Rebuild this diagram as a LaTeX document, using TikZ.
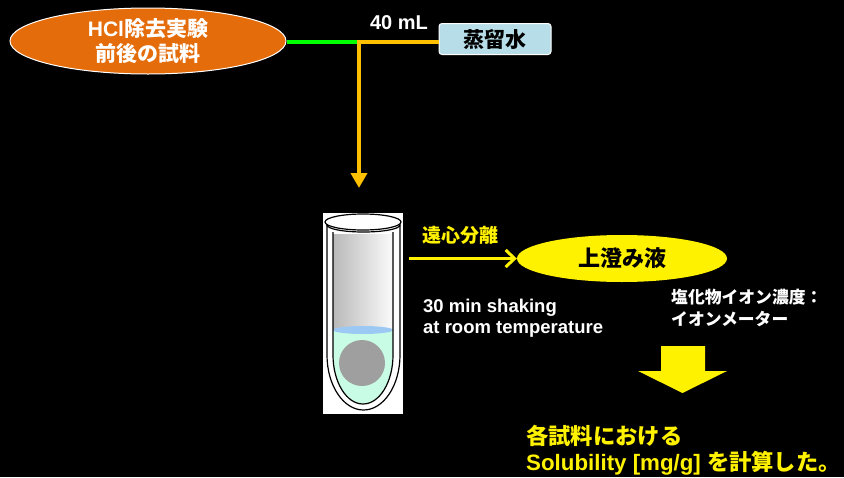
\documentclass[tikz,border=0pt]{standalone}
\usepackage{fontspec}
\setmainfont{Liberation Sans}
\newfontfamily\jp{Noto Sans CJK JP}
\usepackage{tikz}
\usetikzlibrary{arrows.meta}
\usetikzlibrary{shapes.geometric}

\definecolor{sampleorange}{HTML}{E46C0A}
\definecolor{feedamber}{HTML}{FFC000}
\definecolor{waterblue}{HTML}{B7DEE8}
\definecolor{liquidmint}{HTML}{C8FCE4}
\definecolor{surfaceblue}{HTML}{9CC8F4}

\begin{document}
\begin{tikzpicture}[x=1pt,y=1pt,>/.tip={Triangle[width=16pt,length=15pt]},
	samplebox/.style={ellipse,draw=white,line width=1pt,fill=sampleorange,minimum width=276,minimum height=66,inner sep=0pt,text=white,align=center,font=\bfseries\fontsize{21}{25}\selectfont},
	waterbox/.style={rectangle,rounded corners=3pt,draw=white,line width=1pt,fill=waterblue,minimum width=112,minimum height=31,font=\bfseries\fontsize{21}{22}\selectfont},
	superbox/.style={ellipse,fill=yellow,minimum width=210,minimum height=47,inner sep=0pt,font=\bfseries\fontsize{22}{24}\selectfont},
	note/.style={text=white,align=left,inner sep=0pt,font=\bfseries\fontsize{18.5}{21}\selectfont},
	glass/.style={line width=1.2pt}]
	\fill[black] (0,0) rectangle (844,-477);
	\useasboundingbox (0,0) rectangle (844,-477);

	\node (sample) [samplebox] at (148,-41) {HCl{\jp 除去実験}\\{\jp 前後の試料}};
	\node (water) [waterbox] at (495,-39) {\jp 蒸留水};
	\coordinate (split) at (359,-42);
	\node [note,anchor=south,font=\bfseries\fontsize{20}{22}\selectfont] at (399,-30) {40 mL};

	\draw[line width=4.5pt,color=green] (sample.east |- split) -- (split);
	\draw[line width=4.5pt,color=feedamber] (water.west |- split) -- (split.center) -- ++(0,-2);
	\draw[line width=4.5pt,color=feedamber,->] (split) -- (359,-188);

	% centrifuge tube
	\node (tube) [fill=white,minimum width=80,minimum height=201,inner sep=0pt] at (363,-313.5) {};
	\shade[left color=gray!55,right color=gray!3] (333,-234) rectangle (393,-330);
	\fill[liquidmint] (333,-330) -- (333,-355) arc[start angle=180,end angle=360,x radius=30,y radius=49] -- (393,-330) -- cycle;
	\fill[surfaceblue] (363,-330) ellipse [x radius=30,y radius=4];
	\fill[gray!75] (362,-363) circle [radius=23];
	\draw[glass] (327,-223) -- (327,-355) arc[start angle=180,end angle=360,x radius=36.5,y radius=55] -- (400,-223);
	\draw[glass] (333,-232) -- (333,-355) arc[start angle=180,end angle=360,x radius=30,y radius=49] -- (393,-232);
	\draw[glass,fill=white] (363,-222) ellipse [x radius=38,y radius=8];
	\draw[glass] (327,-225) arc[start angle=180,end angle=360,x radius=36.5,y radius=7];

	\node (super) [superbox] at (622,-258.5) {\jp 上澄み液};
	\draw[line width=3pt,color=yellow,-{Straight Barb[length=9pt,width=17pt]}] (tube.east |- super.west) ++(6,0) -- (super.west);
	\node [note,text=yellow,anchor=south,font=\bfseries\fontsize{19}{21}\selectfont] at (460,-245) {\jp 遠心分離};
	\node [note,anchor=west] at (423,-318) {30 min shaking\\at room temperature};
	\node [note,anchor=west,font=\bfseries\fontsize{16.8}{22}\selectfont] at (671,-308) {\jp 塩化物イオン濃度：\\\jp イオンメーター};

	% result arrow and text
	\fill[yellow] (661,-346) -- (705,-346) -- (705,-371) -- (727,-371) -- (682.5,-393) -- (638,-371) -- (661,-371) -- cycle;
	\node [note,text=yellow,anchor=west,font=\bfseries\fontsize{22.3}{26}\selectfont] at (526,-450) {{\jp 各試料における}\\Solubility [mg/g] {\jp を計算した。}};
\end{tikzpicture}
\end{document}
